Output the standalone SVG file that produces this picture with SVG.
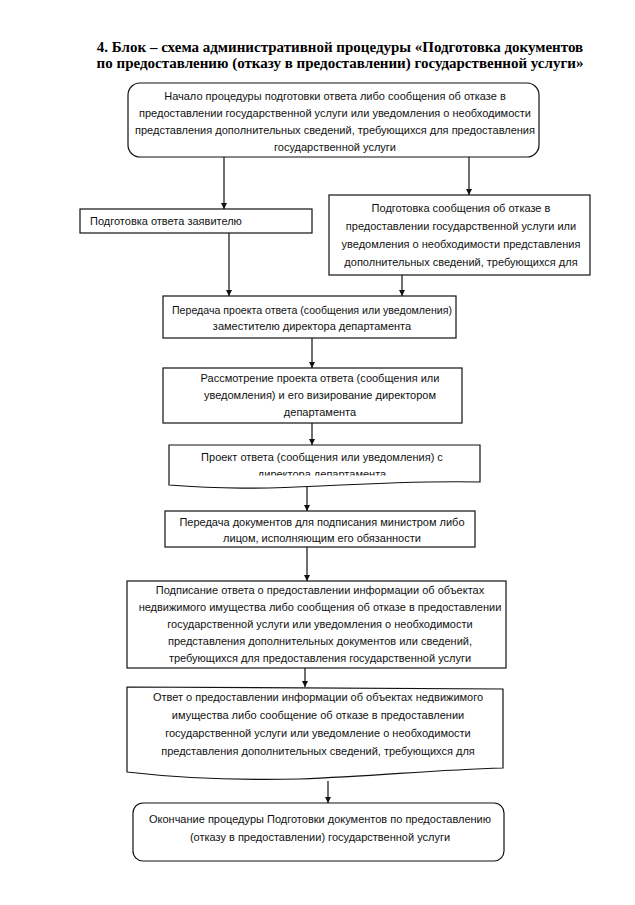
<svg xmlns="http://www.w3.org/2000/svg" width="635" height="905" viewBox="0 0 635 905">
<style>
.title{font-family:"Liberation Serif","Times New Roman",serif;font-weight:bold;font-size:15px;fill:#000;text-anchor:middle}
.t{font-family:"Liberation Sans",Arial,sans-serif;font-size:11px;fill:#111;text-anchor:middle}
.tl{text-anchor:start}
.box{fill:#fff;stroke:#111;stroke-width:1.2}
.conn line{stroke:#111;stroke-width:1.2}
</style>
<defs>
<marker id="ah" viewBox="0 0 8 8" refX="8" refY="4" markerWidth="6" markerHeight="6" markerUnits="userSpaceOnUse" orient="auto">
<path d="M0,0 L8,4 L0,8 z" fill="#111"/>
</marker>
<clipPath id="clipProj"><rect x="160" y="440" width="330" height="35.5"/></clipPath>
</defs>
<rect width="635" height="905" fill="#fff"/>

<g id="title">
<text class="title" x="340" y="52">4. Блок – схема административной процедуры «Подготовка документов</text>
<text class="title" x="340" y="68">по предоставлению (отказу в предоставлении) государственной услуги»</text>
</g>

<g id="n_start">
<rect class="box" x="128" y="83" width="411" height="74" rx="12"/>
<text class="t" x="335" y="100">Начало процедуры подготовки ответа либо сообщения об отказе в</text>
<text class="t" x="335" y="117">предоставлении государственной услуги или уведомления о необходимости</text>
<text class="t" x="335" y="134">представления дополнительных сведений, требующихся для предоставления</text>
<text class="t" x="335" y="151">государственной услуги</text>
</g>

<g id="n_answer">
<rect class="box" x="80" y="209" width="232" height="24"/>
<text class="t tl" x="90" y="225">Подготовка ответа заявителю</text>
</g>

<g id="n_refusal">
<rect class="box" x="329" y="195" width="261" height="80"/>
<text class="t" x="461" y="212">Подготовка сообщения об отказе в</text>
<text class="t" x="461" y="230">предоставлении государственной услуги или</text>
<text class="t" x="461" y="248">уведомления о необходимости представления</text>
<text class="t" x="461" y="266">дополнительных сведений, требующихся для</text>
</g>

<g id="n_transfer_deputy">
<rect class="box" x="163" y="296" width="293" height="42"/>
<text class="t" x="312" y="314" textLength="280" lengthAdjust="spacingAndGlyphs">Передача проекта ответа (сообщения или уведомления)</text>
<text class="t" x="312" y="330">заместителю директора департамента</text>
</g>

<g id="n_review">
<rect class="box" x="163" y="368" width="299" height="55"/>
<text class="t" x="320" y="382">Рассмотрение проекта ответа (сообщения или</text>
<text class="t" x="320" y="399">уведомления) и его визирование директором</text>
<text class="t" x="320" y="416">департамента</text>
</g>

<g id="n_project">
<path class="box" d="M169,445 L480,445 L480,482 C440,481 400,482 320,486 C260,489 220,489 169,485 Z"/>
<text class="t" x="322" y="461">Проект ответа (сообщения или уведомления) с</text>
<text class="t" x="322" y="478" clip-path="url(#clipProj)">директора департамента</text>
</g>

<g id="n_transfer_minister">
<rect class="box" x="165" y="511" width="310" height="36"/>
<text class="t" x="322" y="526">Передача документов для подписания министром либо</text>
<text class="t" x="322" y="542">лицом, исполняющим его обязанности</text>
</g>

<g id="n_sign">
<rect class="box" x="127" y="581" width="379" height="87"/>
<text class="t" x="320" y="594">Подписание ответа о предоставлении информации об объектах</text>
<text class="t" x="320" y="611">недвижимого имущества либо сообщения об отказе в предоставлении</text>
<text class="t" x="320" y="628">государственной услуги или уведомления о необходимости</text>
<text class="t" x="320" y="645">представления дополнительных документов или сведений,</text>
<text class="t" x="320" y="662">требующихся для предоставления государственной услуги</text>
</g>

<g id="n_result">
<path class="box" d="M127,687 L503,689 L503,768 C430,770 380,776 300,779 C220,781 170,777 127,772 Z"/>
<text class="t" x="318" y="701">Ответ о предоставлении информации об объектах недвижимого</text>
<text class="t" x="318" y="719">имущества либо сообщение об отказе в предоставлении</text>
<text class="t" x="318" y="737">государственной услуги или уведомление о необходимости</text>
<text class="t" x="318" y="755">представления дополнительных сведений, требующихся для</text>
</g>

<g id="n_end">
<rect class="box" x="133" y="803" width="371" height="58" rx="10"/>
<text class="t" x="320" y="823">Окончание процедуры Подготовки документов по предоставлению</text>
<text class="t" x="320" y="841">(отказу в предоставлении) государственной услуги</text>
</g>

<g id="connectors" class="conn">
<line x1="224" y1="157" x2="224" y2="209" marker-end="url(#ah)"/>
<line x1="469" y1="157" x2="469" y2="195" marker-end="url(#ah)"/>
<line x1="229" y1="233" x2="229" y2="296" marker-end="url(#ah)"/>
<line x1="402" y1="275" x2="402" y2="296" marker-end="url(#ah)"/>
<line x1="312" y1="338" x2="312" y2="368" marker-end="url(#ah)"/>
<line x1="312" y1="423" x2="312" y2="445" marker-end="url(#ah)"/>
<line x1="307" y1="487" x2="307" y2="511" marker-end="url(#ah)"/>
<line x1="307" y1="547" x2="307" y2="581" marker-end="url(#ah)"/>
<line x1="305" y1="668" x2="305" y2="687" marker-end="url(#ah)"/>
<line x1="328" y1="781" x2="328" y2="803" marker-end="url(#ah)"/>
</g>
</svg>
